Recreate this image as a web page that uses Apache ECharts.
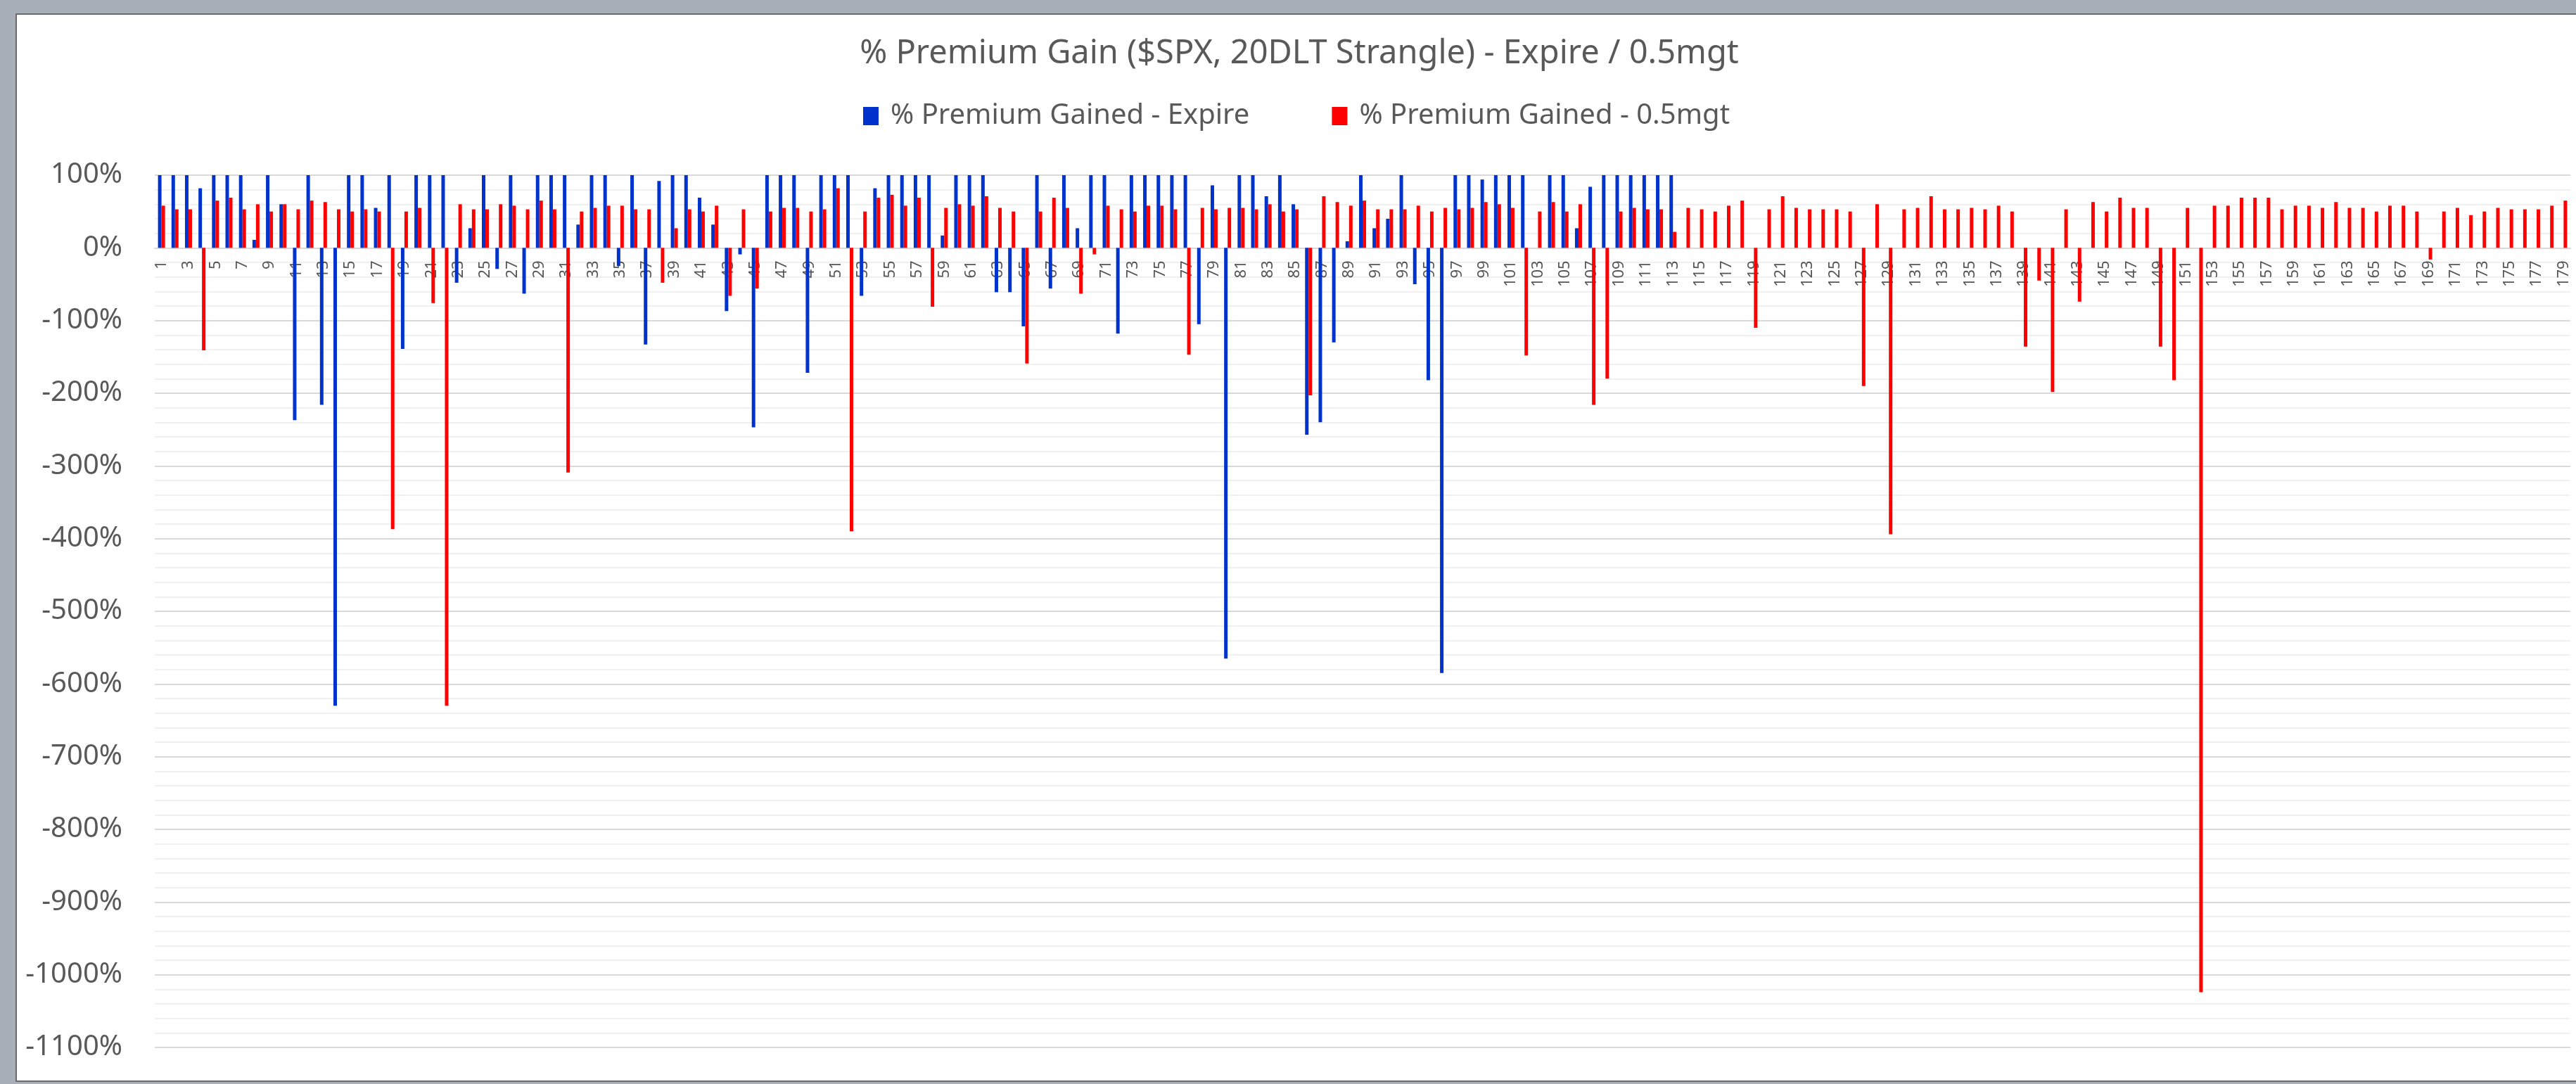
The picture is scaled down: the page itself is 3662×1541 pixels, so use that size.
<!DOCTYPE html>
<html>
<head>
<meta charset="utf-8">
<title>% Premium Gain</title>
<script src="https://cdn.jsdelivr.net/npm/echarts@6/dist/echarts.min.js"></script>
<style>
  html, body { margin: 0; padding: 0; background: #a7afb9; overflow: hidden; }
  #frame {
    position: absolute; left: 22px; top: 19px; width: 3640px; height: 1515px;
    background: #ffffff; border-left: 2px solid #6b6b6b; border-top: 2px solid #6b6b6b;
    border-bottom: 2px solid #6b6b6b;
  }
  #main { position: absolute; left: 0; top: 0; width: 3662px; height: 1541px; }
</style>
</head>
<body>
<div id="frame"></div>
<div id="main"></div>
<script>
// trade numbers 1..179 along the x axis
var tradeNo = [];
for (var i = 1; i <= 179; i++) tradeNo.push(String(i));

// % premium gained when held to expiry (only the first 113 trades)
var gainExpire = [
  100, 100, 100, 82, 100, 100, 100, 11, 100, 60,
  -237, 100, -216, -630, 100, 100, 55, 100, -139, 100,
  100, 100, -48, 27, 100, -29, 100, -63, 100, 100,
  100, 32, 100, 100, -25, 100, -133, 92, 100, 100,
  69, 32, -87, -9, -247, 100, 100, 100, -172, 100,
  100, 100, -66, 82, 100, 100, 100, 100, 17, 100,
  100, 100, -61, -61, -108, 100, -56, 100, 27, 100,
  100, -118, 100, 100, 100, 100, 100, -105, 86, -565,
  100, 100, 71, 100, 60, -257, -240, -130, 9, 100,
  27, 40, 100, -50, -182, -585, 100, 100, 94, 100,
  100, 100, 0, 100, 100, 27, 84, 100, 100, 100,
  100, 100, 100
];

// % premium gained when managed at 0.5
var gainMgt = [
  58, 53, 53, -141, 65, 69, 53, 60, 50, 60,
  53, 65, 63, 53, 50, 53, 50, -387, 50, 55,
  -76, -630, 60, 53, 53, 60, 58, 53, 65, 53,
  -309, 50, 55, 58, 58, 53, 53, -48, 27, 53,
  50, 58, -66, 53, -56, 50, 55, 55, 50, 53,
  82, -390, 50, 69, 73, 58, 69, -81, 55, 60,
  58, 71, 55, 50, -159, 50, 69, 55, -63, -9,
  58, 53, 50, 58, 58, 53, -147, 55, 53, 55,
  55, 53, 60, 50, 53, -203, 71, 63, 58, 65,
  53, 53, 53, 58, 50, 55, 53, 55, 63, 60,
  55, -148, 50, 63, 50, 60, -216, -180, 50, 55,
  53, 53, 22, 55, 53, 50, 58, 65, -110, 53,
  71, 55, 53, 53, 53, 50, -190, 60, -394, 53,
  55, 71, 53, 53, 55, 53, 58, 50, -136, -45,
  -198, 53, -74, 63, 50, 69, 55, 55, -136, -182,
  55, -1024, 58, 58, 69, 69, 69, 53, 58, 58,
  55, 63, 55, 55, 50, 58, 58, 50, -16, 50,
  55, 45, 50, 55, 53, 53, 53, 58, 65
];

var seriesNames = ['% Premium Gained - Expire', '% Premium Gained - 0.5mgt'];

var yMin = -1100, yMax = 100;
var gridTop = 249, gridBottom = 52, chartHeight = 1541;
// lift the category axis up to the 0% line
var plotHeight = chartHeight - gridTop - gridBottom;
var zeroLift = plotHeight * (0 - yMin) / (yMax - yMin);

var chart = echarts.init(document.getElementById('main'));

var option = {
  animation: false,
  color: ['#0033cc', '#ff0000'],
  title: {
    text: '% Premium Gain ($SPX, 20DLT Strangle) - Expire / 0.5mgt',
    left: 1842,
    textAlign: 'center',
    top: 48,
    textStyle: {
      fontFamily: 'Noto Sans',
      fontSize: 47,
      fontWeight: 'normal',
      color: '#595959'
    }
  },
  legend: {
    data: seriesNames,
    top: 140,
    left: 1222,
    // square marker plus a little empty room before the text
    icon: 'path://M0,0H22V26H0Z M34,13L34,13',
    itemWidth: 34,
    itemHeight: 26,
    itemGap: 117,
    textStyle: {
      fontFamily: 'Noto Sans',
      fontSize: 40,
      color: '#595959'
    }
  },
  grid: {
    left: 220,
    right: 8,
    top: gridTop,
    bottom: gridBottom
  },
  xAxis: {
    type: 'category',
    data: tradeNo,
    offset: -zeroLift,
    axisLine: {
      onZero: false,
      lineStyle: { color: '#d9d9d9', width: 2 }
    },
    axisTick: { show: false },
    axisLabel: {
      rotate: 90,
      interval: 1,
      margin: 18,
      fontFamily: 'Noto Sans',
      fontSize: 22,
      color: '#555555'
    }
  },
  yAxis: {
    type: 'value',
    min: yMin,
    max: yMax,
    interval: 100,
    axisLine: { show: false },
    axisTick: { show: false },
    axisLabel: {
      formatter: function (v) { return v + '%'; },
      margin: 46,
      fontFamily: 'Noto Sans',
      fontSize: 40,
      color: '#595959'
    },
    splitLine: {
      lineStyle: { color: '#d9d9d9', width: 2 }
    },
    minorTick: { show: false, splitNumber: 5 },
    minorSplitLine: {
      show: true,
      lineStyle: { color: '#f0f0f0', width: 2 }
    }
  },
  series: [
    {
      name: seriesNames[0],
      type: 'bar',
      barWidth: 5,
      barGap: '0%',
      data: gainExpire
    },
    {
      name: seriesNames[1],
      type: 'bar',
      barWidth: 5,
      barGap: '0%',
      data: gainMgt
    }
  ]
};

chart.setOption(option);
</script>
</body>
</html>
